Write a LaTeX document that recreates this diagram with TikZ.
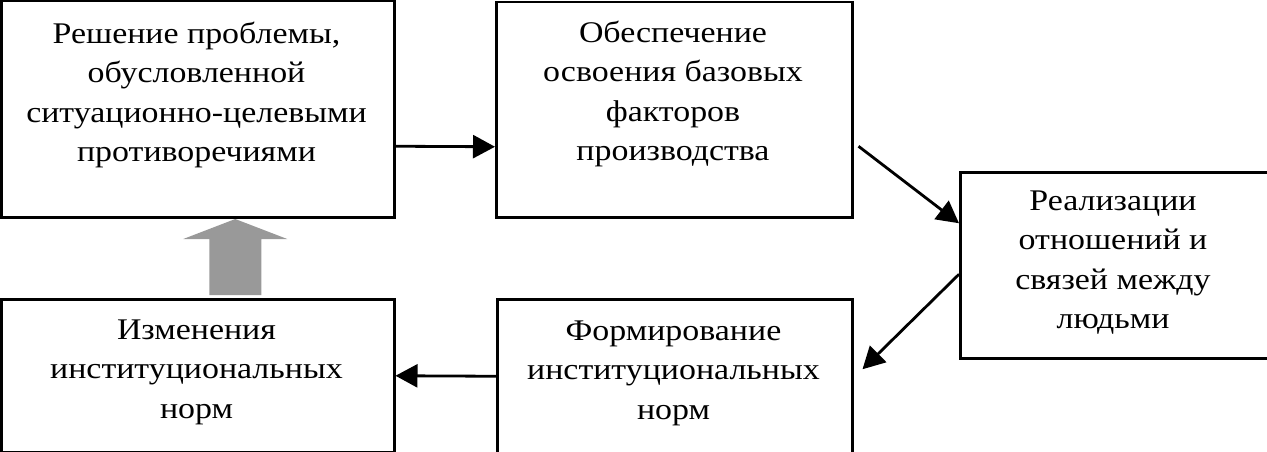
\documentclass[tikz,border=0pt]{standalone}
\usepackage{fontspec}
\setmainfont[FakeStretch=1.13]{Liberation Serif}
\usetikzlibrary{arrows.meta,calc}

\definecolor{blockgray}{HTML}{999999}

\begin{document}
\begin{tikzpicture}[x=1pt,y=-1pt,
  box/.style={draw=black,line width=2.5pt,rectangle,inner sep=0pt,anchor=north west},
  label/.style={anchor=north,align=center,inner sep=0pt,
    font=\fontsize{30}{39.5}\selectfont},
  flow/.style={line width=2.8pt,-{Triangle[length=22pt,width=23pt]}}]

  \useasboundingbox (0,0) rectangle (1267,452);

  % boxes
  \node[box,minimum width=393pt,minimum height=216pt] (b1) at (0,0) {};
  \node[box,minimum width=356pt,minimum height=215pt] (b2) at (495,1) {};
  \node[box,minimum width=308pt,minimum height=186pt] (b3) at (959,171) {};
  \node[box,minimum width=393pt,minimum height=153pt] (b4) at (0,298) {};
  \node[box,minimum width=355pt,minimum height=154pt] (b5) at (496,298) {};

  % texts
  \node[label] (t1) at (196.5,15.35) {\strut Решение проблемы,\\обусловленной\\ситуационно-целевыми\\противоречиями\strut};
  \node[label] (t2) at (673,14.35) {\strut Обеспечение\\освоения базовых\\факторов\\производства\strut};
  \node[label] (t3) at (1113,182.35) {\strut Реализации\\отношений и\\связей между\\людьми\strut};
  \node[label] (t4) at (196.5,311.35) {\strut Изменения\\институциональных\\норм\strut};
  \node[label] (t5) at (673.5,312.35) {\strut Формирование\\институциональных\\норм\strut};

  % connectors
  \draw[flow] ([yshift=-37pt]b1.east) -- ([yshift=-37pt]b2.west);
  \draw[flow] ([shift={(5pt,-36.5pt)}]b2.east) -- ([yshift=42pt]b3.west);
  \draw[flow] ([yshift=-9pt]b3.west) -- ([shift={(9pt,7pt)}]b5.east);
  \draw[flow] (b5.west) -- (b4.east);

  % wide gray arrow from the lower left box up to the upper left box
  \fill[blockgray] ($(b4.north)+(11.5,-3)$) -- ++(0,-56) -- ++(-26,0)
    -- ++(52,-20) -- ++(52,20) -- ++(-26,0) -- ++(0,56) -- cycle;
\end{tikzpicture}
\end{document}
